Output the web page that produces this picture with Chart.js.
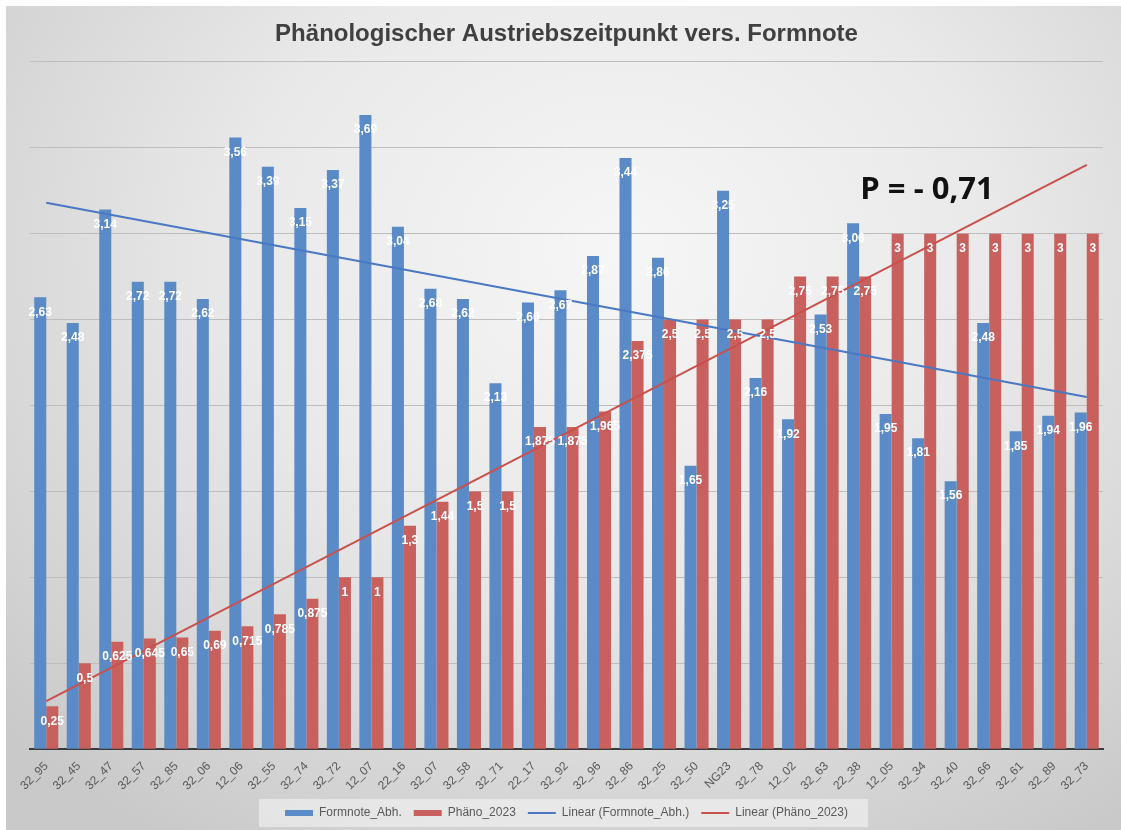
<!DOCTYPE html>
<html>
<head>
<meta charset="utf-8">
<script src="https://cdn.jsdelivr.net/npm/chart.js@4/dist/chart.umd.min.js"></script>
<style>
  html, body { margin: 0; padding: 0; background: #fff; }
  #bg {
    position: absolute; left: 6px; top: 6px; width: 1115px; height: 824px;
    background: radial-gradient(ellipse 75% 85% at 55% 30%, #f6f6f6 0%, #e9e9e9 45%, #d2d2d2 85%, #c9c9c9 100%);
  }
  #wrap { position: absolute; left: 0; top: 0; width: 1121px; height: 830px; }
</style>
</head>
<body>
<div id="bg"></div>
<div id="wrap"><canvas id="chart" width="1121" height="830"></canvas></div>
<script>
const categories = ["32_95","32_45","32_47","32_57","32_85","32_06","12_06","32_55","32_74","32_72","12_07","22_16","32_07","32_58","32_71","22_17","32_92","32_96","32_86","32_25","32_50","NG23","32_78","12_02","32_63","22_38","12_05","32_34","32_40","32_66","32_61","32_89","32_73"]

const formnote = [2.63,2.48,3.14,2.72,2.72,2.62,3.56,3.39,3.15,3.37,3.69,3.04,2.68,2.62,2.13,2.60,2.67,2.87,3.44,2.86,1.65,3.25,2.16,1.92,2.53,3.06,1.95,1.81,1.56,2.48,1.85,1.94,1.96]

const phaeno = [0.25,0.5,0.625,0.645,0.65,0.69,0.715,0.785,0.875,1,1,1.3,1.44,1.5,1.5,1.875,1.875,1.965,2.375,2.5,2.5,2.5,2.5,2.75,2.75,2.75,3,3,3,3,3,3,3]

// trend line ends (first and last category)
const trendFormnote = [3.18, 2.05]
const trendPhaeno = [0.28, 3.40]

const BLUE = "#5b8bc7"
const RED = "#c8605e"
const FONT = "'Liberation Sans', Arial, sans-serif"

const fmtBlue = v => v.toFixed(2).replace(".", ",")
const fmtRed = v => String(v).replace(".", ",")

const barLabels = {
  id: "barLabels",
  afterDatasetsDraw(chart){
    const ctx = chart.ctx
    ctx.save()
    ctx.font = "bold 12px " + FONT
    ctx.fillStyle = "#ffffff"
    ctx.textAlign = "center"
    ctx.textBaseline = "middle"
    ;[0,1].forEach(i => {
      const meta = chart.getDatasetMeta(i)
      const fmt = i === 0 ? fmtBlue : fmtRed
      meta.data.forEach((bar, j) => {
        const v = chart.data.datasets[i].data[j]
        ctx.fillText(fmt(v), bar.x, bar.y + 15)
      })
    })
    ctx.restore()
  }
}

const extras = {
  id: "extras",
  beforeDraw(chart){
    const l = chart.legend
    if (!l || !l.legendHitBoxes || !l.legendHitBoxes.length) return
    const boxes = l.legendHitBoxes
    const left = Math.min(...boxes.map(b => b.left)) - 26
    const right = Math.max(...boxes.map(b => b.left + b.width)) + 20
    const cy = boxes[0].top + boxes[0].height / 2
    const ctx = chart.ctx
    ctx.save()
    ctx.fillStyle = "rgba(255,255,255,0.45)"
    ctx.fillRect(left, cy - 14, right - left, 28)
    ctx.restore()
  },
  afterDraw(chart){
    const ctx = chart.ctx
    ctx.save()
    ctx.font = "bold 31px 'Open Sans', 'Liberation Sans', sans-serif"
    ctx.fillStyle = "#111"
    ctx.textAlign = "center"
    ctx.textBaseline = "middle"
    ctx.fillText("P = - 0,71", 927, 190)
    ctx.restore()
  }
}

new Chart(document.getElementById("chart"), {
  type: "bar",
  data: {
    labels: categories,
    datasets: [
      { label: "Formnote_Abh.", data: formnote, backgroundColor: BLUE, order: 2,
        barPercentage: 1, categoryPercentage: 0.74 },
      { label: "Phäno_2023", data: phaeno, backgroundColor: RED, order: 2,
        barPercentage: 1, categoryPercentage: 0.74 },
      { type: "line", label: "Linear (Formnote_Abh.)", order: 1,
        data: [{x: categories[0], y: trendFormnote[0]}, {x: categories[categories.length-1], y: trendFormnote[1]}],
        borderColor: "#4a78c2", borderWidth: 2, pointRadius: 0, fill: false },
      { type: "line", label: "Linear (Phäno_2023)", order: 1,
        data: [{x: categories[0], y: trendPhaeno[0]}, {x: categories[categories.length-1], y: trendPhaeno[1]}],
        borderColor: "#c9504d", borderWidth: 2, pointRadius: 0, fill: false }
    ]
  },
  options: {
    responsive: false,
    animation: false,
    layout: { padding: { left: 30, right: 18, top: 0, bottom: 1 } },
    scales: {
      x: {
        grid: { display: false },
        border: { color: "#3a3a3a", width: 2 },
        ticks: { minRotation: 45, maxRotation: 45, color: "#595959", padding: 2,
          font: { size: 12, family: FONT } }
      },
      y: {
        min: 0, max: 4,
        ticks: { display: false, stepSize: 0.5 },
        grid: { color: "#bdbdbd", lineWidth: 1, drawTicks: false },
        border: { display: false }
      }
    },
    plugins: {
      title: {
        display: true,
        text: "Phänologischer Austriebszeitpunkt vers. Formnote",
        color: "#404040",
        font: { size: 24, weight: "bold", family: FONT },
        padding: { top: 20, bottom: 13 }
      },
      legend: {
        position: "bottom",
        labels: {
          color: "#595959",
          font: { size: 12, family: FONT },
          usePointStyle: true,
          pointStyleWidth: 28,
          boxHeight: 6,
          padding: 12,
          generateLabels(chart){
            return chart.data.datasets.map((ds, i) => ({
              text: ds.label,
              fillStyle: i < 2 ? ds.backgroundColor : ds.borderColor,
              strokeStyle: i < 2 ? ds.backgroundColor : ds.borderColor,
              lineWidth: i < 2 ? 0 : 2,
              pointStyle: i < 2 ? "rect" : "line",
              fontColor: "#595959",
              hidden: false,
              datasetIndex: i
            }))
          }
        }
      },
      tooltip: { enabled: false }
    }
  },
  plugins: [barLabels, extras]
})
</script>
</body>
</html>
